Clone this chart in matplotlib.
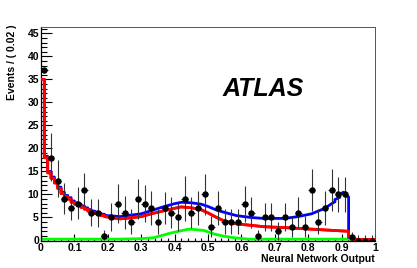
import numpy as np
import matplotlib
matplotlib.use("Agg")
import matplotlib.pyplot as plt
from matplotlib.ticker import MultipleLocator

# ---- data points (bin width 0.02) ----
x_centers = [0.01, 0.03, 0.05, 0.07, 0.09, 0.11, 0.13, 0.15, 0.17, 0.19,
             0.21, 0.23, 0.25, 0.27, 0.29, 0.31, 0.33, 0.35, 0.37, 0.39,
             0.41, 0.43, 0.45, 0.47, 0.49, 0.51, 0.53, 0.55, 0.57, 0.59,
             0.61, 0.63, 0.65, 0.67, 0.69, 0.71, 0.73, 0.75, 0.77, 0.79,
             0.81, 0.83, 0.85, 0.87, 0.89, 0.91, 0.93, 0.95, 0.97, 0.99]
counts = [37, 18, 13, 9, 7, 8, 11, 6, 6, 1,
          5, 8, 6, 4, 9, 8, 7, 4, 7, 6,
          5, 9, 6, 7, 10, 3, 7, 4, 4, 4,
          8, 6, 1, 5, 5, 2, 5, 3, 6, 3,
          11, 4, 7, 11, 10, 10, 0.8, 0, 0, 0]
err_low = [0.5, 5.0, 3.5, 3.3, 2.5, 3.4, 3.6, 2.9, 3.0, 0.9,
           3.0, 4.2, 3.5, 2.6, 4.3, 3.9, 3.6, 2.6, 3.5, 3.3,
           3.0, 4.8, 3.3, 3.6, 4.4, 2.2, 3.6, 2.6, 2.6, 2.6,
           3.9, 3.3, 1.0, 3.0, 3.0, 1.8, 3.0, 2.2, 3.3, 2.2,
           4.5, 2.6, 3.6, 4.5, 3.8, 3.8, 0.8, 0, 0, 0]
err_high = [0.5, 5.3, 4.6, 3.4, 2.6, 3.6, 3.6, 3.0, 3.1, 1.2,
            3.2, 4.3, 3.6, 2.8, 4.3, 4.0, 3.7, 2.8, 3.6, 3.4,
            3.2, 5.0, 3.4, 3.7, 4.4, 2.4, 3.7, 2.8, 2.8, 2.8,
            3.9, 3.4, 1.3, 3.2, 3.2, 2.0, 3.2, 2.4, 3.4, 2.4,
            4.5, 2.8, 3.7, 4.5, 3.9, 3.9, 1.1, 1.1, 1.1, 1.1]

# ---- fit curves ----
red_x = [0.003, 0.01, 0.01, 0.02, 0.02, 0.03, 0.03, 0.04, 0.04, 0.05, 0.05, 0.06,
         0.06, 0.07, 0.07, 0.08, 0.08, 0.09, 0.09, 0.10, 0.10, 0.11, 0.11, 0.12,
         0.12, 0.13, 0.13, 0.14, 0.14, 0.15, 0.15, 0.16, 0.16, 0.17, 0.17, 0.18,
         0.18, 0.19, 0.19, 0.20,
         0.237, 0.267, 0.30, 0.33, 0.37, 0.40, 0.42, 0.45, 0.479, 0.50, 0.526,
         0.55, 0.586, 0.629, 0.666, 0.73, 0.92, 0.922, 0.93, 0.93, 1.0]
red_y = [35, 35, 18, 18, 14.7, 14.7, 13.5, 13.5, 12.5, 12.5, 11.3, 11.3,
         10.2, 10.2, 9.5, 9.5, 9.0, 9.0, 8.3, 8.3, 7.9, 7.9, 7.6, 7.6,
         7.2, 7.2, 6.8, 6.8, 6.4, 6.4, 6.1, 6.1, 5.9, 5.9, 5.6, 5.6,
         5.4, 5.4, 5.2, 5.1,
         4.7, 4.9, 5.2, 5.8, 6.5, 7.0, 7.3, 7.1, 6.7, 6.0, 5.0,
         4.2, 3.6, 3.3, 3.0, 2.8, 2.0, 0.8, 0.8, 0.2, 0.2]

blue_x = [0.003, 0.01, 0.01, 0.02, 0.02, 0.03, 0.03, 0.04, 0.04, 0.05, 0.05, 0.06,
          0.06, 0.07, 0.07, 0.08, 0.08, 0.09, 0.09, 0.10, 0.10, 0.11, 0.11, 0.12,
          0.12, 0.13, 0.13, 0.14, 0.14, 0.15, 0.15, 0.16, 0.16, 0.17, 0.17, 0.18,
          0.18, 0.19, 0.19, 0.20,
          0.237, 0.267, 0.30, 0.33, 0.37, 0.40, 0.42, 0.45, 0.479, 0.50, 0.526,
          0.55, 0.586, 0.629, 0.666, 0.73, 0.77, 0.81, 0.85, 0.87, 0.88, 0.88,
          0.895, 0.895, 0.905, 0.912, 0.912, 0.921, 0.921, 0.93, 0.93, 0.94, 0.94, 1.0]
blue_y = [35, 35, 18.3, 18.3, 15.0, 15.0, 13.8, 13.8, 12.8, 12.8, 11.6, 11.6,
          10.5, 10.5, 9.8, 9.8, 9.3, 9.3, 8.6, 8.6, 8.2, 8.2, 7.9, 7.9,
          7.5, 7.5, 7.1, 7.1, 6.7, 6.7, 6.4, 6.4, 6.2, 6.2, 5.9, 5.9,
          5.7, 5.7, 5.5, 5.4,
          5.2, 5.5, 5.8, 6.5, 7.4, 8.0, 8.3, 8.2, 7.9, 7.4, 6.6,
          6.1, 5.4, 5.0, 4.8, 4.8, 5.2, 5.8, 7.0, 8.0, 8.4, 8.9,
          9.4, 10.0, 10.5, 10.2, 9.7, 9.5, 0.7, 0.7, 0.4, 0.4, 0.2, 0.2]

green_x = [0.003, 0.237, 0.30, 0.337, 0.387, 0.437, 0.45, 0.487, 0.519, 0.55,
           0.579, 0.62, 0.92, 0.93, 1.0]
green_y = [0.3, 0.3, 0.4, 0.6, 1.6, 2.4, 2.45, 2.2, 1.4, 0.9,
           0.6, 0.3, 0.3, 0.15, 0.15]

fig = plt.figure(figsize=(4.17, 2.68), dpi=100)
ax = fig.add_axes([41/417, 1-240.5/268, (375-41)/417, (240.5-27)/268])

ax.plot(green_x, green_y, color=(0, 1, 0), lw=2.0, zorder=2)
ax.plot(red_x, red_y, color=(1, 0, 0), lw=2.0, zorder=3)
ax.plot(blue_x, blue_y, color=(0, 0, 1), lw=2.0, zorder=2.5)
ax.plot(red_x, red_y, color=(1, 0, 0), lw=2.0, zorder=3)

ax.errorbar(x_centers, counts, yerr=[err_low, err_high], xerr=0.01,
            fmt='o', color='black', ecolor='#333333', ms=3.6, elinewidth=0.8,
            capsize=0, zorder=5)

ax.set_xlim(0, 1)
ax.set_ylim(0, 46.4)

ax.xaxis.set_major_locator(MultipleLocator(0.1))
ax.xaxis.set_minor_locator(MultipleLocator(0.02))
ax.yaxis.set_major_locator(MultipleLocator(5))
ax.yaxis.set_minor_locator(MultipleLocator(1))
ax.set_xticks([0, 0.1, 0.2, 0.3, 0.4, 0.5, 0.6, 0.7, 0.8, 0.9, 1.0])
ax.set_xticklabels(['0', '0.1', '0.2', '0.3', '0.4', '0.5', '0.6', '0.7', '0.8', '0.9', '1'])

ax.tick_params(axis='both', which='both', direction='in', top=False, right=False,
               width=0.8)
ax.tick_params(axis='y', which='major', length=8, pad=1.5)
ax.tick_params(axis='y', which='minor', length=4)
ax.tick_params(axis='x', which='major', length=5, pad=2)
ax.tick_params(axis='x', which='minor', length=2.5)

for lab in ax.get_xticklabels() + ax.get_yticklabels():
    lab.set_fontfamily('Liberation Sans')
    lab.set_fontweight('bold')
    lab.set_fontsize(7.5)

for side in ['left', 'bottom']:
    ax.spines[side].set_linewidth(0.9)
for side in ['top', 'right']:
    ax.spines[side].set_linewidth(0.7)
    ax.spines[side].set_color('#555555')

ax.text(0.542, 31.5, 'ATLAS', fontfamily='Liberation Sans', fontweight='bold',
        fontstyle='italic', fontsize=18, ha='left', va='baseline')

fig.text(12/417, 1-25/268, 'Events / ( 0.02 )', rotation=90, ha='center', va='top',
         fontfamily='Liberation Sans', fontweight='bold', fontsize=7.5)
fig.text(375/417, 1-262/268, 'Neural Network Output', ha='right', va='baseline',
         fontfamily='Liberation Sans', fontweight='bold', fontsize=7.5)

fig.savefig('out.png', dpi=100)
